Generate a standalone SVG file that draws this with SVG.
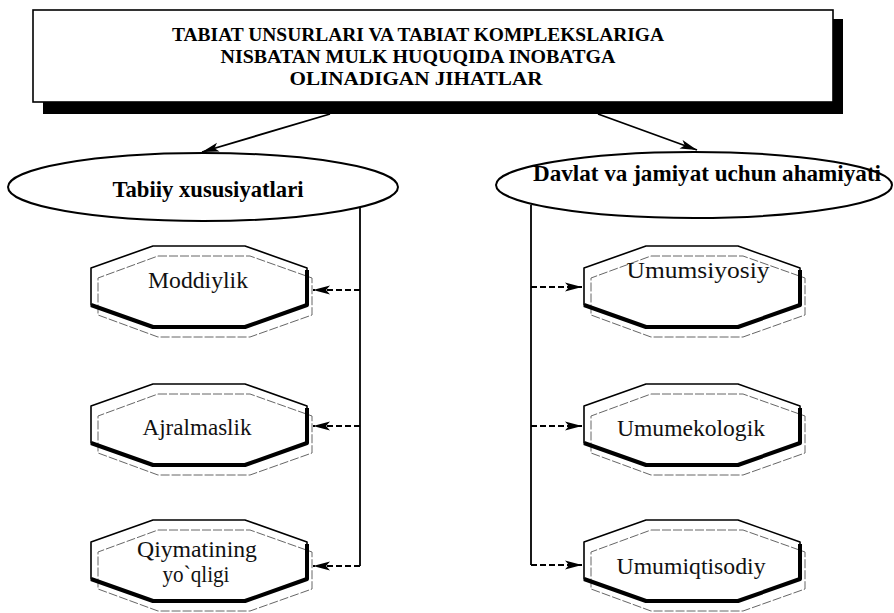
<svg xmlns="http://www.w3.org/2000/svg" width="894" height="613" viewBox="0 0 894 613">
<style>
.bg{fill:#fff}
.title{font-family:"Liberation Serif","Times New Roman",serif;font-weight:bold;font-size:19.5px;fill:#000}
.etext{font-family:"Liberation Serif","Times New Roman",serif;font-weight:bold;font-size:23px;fill:#000}
.otext{font-family:"Liberation Serif","Times New Roman",serif;font-size:23px;fill:#111}
.ell{fill:#fff;stroke:#000;stroke-width:2}
.oc{fill:none;stroke:#000;stroke-width:1.6;stroke-linejoin:round}
.sh{fill:none;stroke:#666;stroke-width:1;stroke-dasharray:9 2}
.thick{fill:none;stroke:#000;stroke-width:4;stroke-linejoin:round}
.solid{fill:none;stroke:#000;stroke-width:1.8}
.dash{fill:none;stroke:#000;stroke-width:2;stroke-dasharray:6 3}
</style>
<defs>
<marker id="ah" markerUnits="userSpaceOnUse" markerWidth="18" markerHeight="10" refX="17" refY="5" orient="auto">
<path d="M0,0.5 L17,5 L0,9.5 L4,5 z" fill="#000"/>
</marker>
<g id="oct">
<polygon class="oc" points="62,0 154,0 216,22 216,59 154,81 62,81 0,59 0,22" fill="#fff"/>
<polygon class="sh" points="67,10 159,10 221,32 221,69 159,91 67,91 7,69 7,32"/>
<path class="thick" d="M0,59 L62,81 L154,81 L216,59 L216,24"/>
</g>
</defs>
<rect class="bg" x="0" y="0" width="894" height="613"/>

<g id="title">
<rect x="43" y="19" width="800" height="95" fill="#000"/>
<rect x="33" y="10" width="800" height="92" fill="#fff" stroke="#000" stroke-width="1.6"/>
<text class="title" x="418" y="41" text-anchor="middle" textLength="492" lengthAdjust="spacingAndGlyphs">TABIAT UNSURLARI VA TABIAT KOMPLEKSLARIGA</text>
<text class="title" x="418" y="63" text-anchor="middle" textLength="395" lengthAdjust="spacingAndGlyphs">NISBATAN MULK HUQUQIDA INOBATGA</text>
<text class="title" x="416" y="85" text-anchor="middle" textLength="253" lengthAdjust="spacingAndGlyphs">OLINADIGAN JIHATLAR</text>
</g>

<g id="connectors">
<path class="solid" d="M330,114 L202,152" marker-end="url(#ah)"/>
<path class="solid" d="M598,114 L697,150" marker-end="url(#ah)"/>
<path class="solid" d="M360,207 L360,566"/>
<path class="dash" d="M360,290 L313,290" marker-end="url(#ah)"/>
<path class="dash" d="M360,426 L313,426" marker-end="url(#ah)"/>
<path class="dash" d="M360,566 L313,566" marker-end="url(#ah)"/>
<path class="solid" d="M531,205 L531,565"/>
<path class="dash" d="M531,287 L582,287" marker-end="url(#ah)"/>
<path class="dash" d="M531,426 L582,426" marker-end="url(#ah)"/>
<path class="dash" d="M531,565 L582,565" marker-end="url(#ah)"/>
</g>

<g id="node-tabiiy">
<ellipse class="ell" cx="203" cy="187" rx="195" ry="34"/>
<text class="etext" x="208" y="197" text-anchor="middle" textLength="191" lengthAdjust="spacingAndGlyphs">Tabiiy  xususiyatlari</text>
</g>
<g id="node-davlat">
<ellipse class="ell" cx="694" cy="185" rx="198" ry="33"/>
<text class="etext" x="707" y="181" text-anchor="middle" textLength="348" lengthAdjust="spacingAndGlyphs">Davlat va jamiyat uchun ahamiyati</text>
</g>

<g id="node-moddiylik">
<use href="#oct" transform="translate(91,246)"/>
<text class="otext" x="198" y="288" text-anchor="middle" textLength="100" lengthAdjust="spacingAndGlyphs">Moddiylik</text>
</g>
<g id="node-ajralmaslik">
<use href="#oct" transform="translate(91,384)"/>
<text class="otext" x="197" y="435" text-anchor="middle" textLength="109" lengthAdjust="spacingAndGlyphs">Ajralmaslik</text>
</g>
<g id="node-qiymatining">
<use href="#oct" transform="translate(91,520)"/>
<text class="otext" x="197" y="557" text-anchor="middle" textLength="120" lengthAdjust="spacingAndGlyphs">Qiymatining</text>
<text class="otext" x="196" y="582" text-anchor="middle" textLength="67" lengthAdjust="spacingAndGlyphs">yo`qligi</text>
</g>
<g id="node-umumsiyosiy">
<use href="#oct" transform="translate(584,246)"/>
<text class="otext" x="698" y="278" text-anchor="middle" textLength="143" lengthAdjust="spacingAndGlyphs">Umumsiyosiy</text>
</g>
<g id="node-umumekologik">
<use href="#oct" transform="translate(584,384)"/>
<text class="otext" x="691" y="436" text-anchor="middle" textLength="148" lengthAdjust="spacingAndGlyphs">Umumekologik</text>
</g>
<g id="node-umumiqtisodiy">
<use href="#oct" transform="translate(584,520)"/>
<text class="otext" x="691" y="574" text-anchor="middle" textLength="149" lengthAdjust="spacingAndGlyphs">Umumiqtisodiy</text>
</g>
</svg>
